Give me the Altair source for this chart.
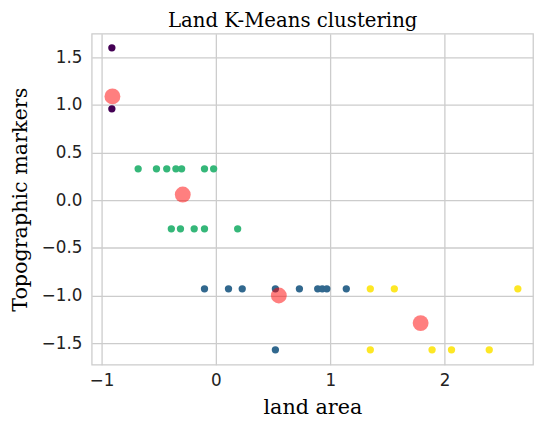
import altair as alt
import pandas as pd

# cluster points (x = land area, y = topographic markers)
c0_x = [-0.91, -0.91]
c0_y = [1.60, 0.96]
c1_x = [-0.68, -0.52, -0.43, -0.35, -0.30, -0.10, -0.02, -0.39, -0.31, -0.19, -0.10, 0.19]
c1_y = [0.33, 0.33, 0.33, 0.33, 0.33, 0.33, 0.33, -0.30, -0.30, -0.30, -0.30, -0.30]
c2_x = [-0.10, 0.11, 0.23, 0.52, 0.73, 0.89, 0.93, 0.97, 1.14, 0.52]
c2_y = [-0.93, -0.93, -0.93, -0.93, -0.93, -0.93, -0.93, -0.93, -0.93, -1.57]
c3_x = [1.35, 1.56, 2.64, 1.35, 1.89, 2.06, 2.39]
c3_y = [-0.93, -0.93, -0.93, -1.57, -1.57, -1.57, -1.57]

cent_x = [-0.905, -0.29, 0.55, 1.79]
cent_y = [1.09, 0.06, -1.00, -1.29]

colors = ["#440154", "#31688e", "#35b779", "#fde725"]
x_ticks = [-1, 0, 1, 2]
y_ticks = [-1.5, -1.0, -0.5, 0.0, 0.5, 1.0, 1.5]

rows = []
for k, (xs, ys) in enumerate([(c0_x, c0_y), (c2_x, c2_y), (c1_x, c1_y), (c3_x, c3_y)]):
    for a, b in zip(xs, ys):
        rows.append({"x": a, "y": b, "cluster": k})
pts = pd.DataFrame(rows)
cent = pd.DataFrame({"x": cent_x, "y": cent_y})

xscale = alt.Scale(domain=[-1.086, 2.773], nice=False, zero=False)
yscale = alt.Scale(domain=[-1.727, 1.748], nice=False, zero=False)

xaxis = alt.Axis(values=x_ticks, format="d", title="land area", labelPadding=8,
                 titlePadding=8)
yaxis = alt.Axis(values=y_ticks, format=".1f", title="Topographic markers",
                 labelPadding=10, titlePadding=11)

scatter = alt.Chart(pts).mark_circle(size=55, opacity=1).encode(
    x=alt.X("x:Q", scale=xscale, axis=xaxis),
    y=alt.Y("y:Q", scale=yscale, axis=yaxis),
    color=alt.Color("cluster:N", scale=alt.Scale(domain=[0, 1, 2, 3], range=colors), legend=None),
)

centers = alt.Chart(cent).mark_circle(size=260, color="red", opacity=0.5).encode(
    x=alt.X("x:Q", scale=xscale),
    y=alt.Y("y:Q", scale=yscale),
)

chart = alt.layer(scatter, centers).properties(
    width=448,
    height=336,
    title=alt.TitleParams("Land K-Means clustering", font="DejaVu Serif", fontSize=20,
                          fontWeight="normal", color="black", anchor="middle", dx=-20, offset=3),
    autosize=alt.AutoSizeParams(type="none"),
    padding={"left": 85, "top": 23, "right": 3, "bottom": 56},
).configure_view(
    stroke="#cccccc", strokeWidth=1.3
).configure_axis(
    grid=True, gridColor="#cccccc", gridWidth=1.3, domain=False, ticks=False,
    labelFont="DejaVu Sans", labelFontSize=17, labelColor="#222222",
    titleFont="DejaVu Serif", titleFontSize=21, titleFontWeight="normal", titleColor="black",
)

chart.save("out.html", embed_options={"renderer": "svg", "actions": False})
